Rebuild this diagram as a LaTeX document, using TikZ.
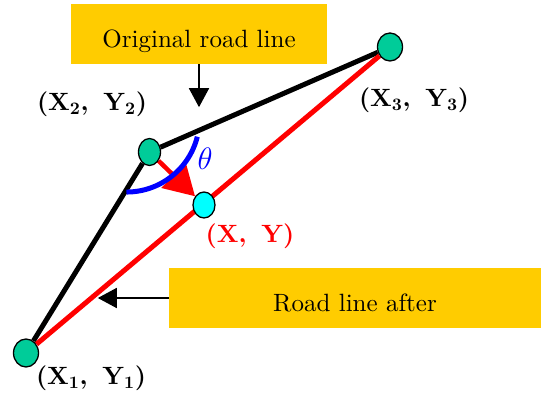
\documentclass[tikz,border=0pt]{standalone}
\usepackage{fix-cm}
\usepackage{fontspec}
\setmainfont{lmroman10-regular.otf}[BoldFont=lmroman10-bold.otf,ItalicFont=lmroman10-italic.otf]
\usepackage{tikz}
\usetikzlibrary{positioning,arrows.meta,shapes.geometric,backgrounds}
\definecolor{boxyellow}{RGB}{255,204,0}
\definecolor{ptgreen}{RGB}{0,204,153}
\definecolor{ptcyan}{RGB}{0,255,255}
\tikzset{
  callarr/.style={-{Triangle[length=19pt,width=20pt]},line width=1.6pt},
  movearr/.style={-{Triangle[length=30pt,width=34pt]},line width=4.5pt,draw=red},
  road/.style={line width=5pt},
  anglearc/.style={draw=blue,line width=5pt},
  notebox/.style={fill=boxyellow,inner sep=0pt,align=center,minimum height=60pt,
                  text height=28pt,text depth=0pt,font=\fontsize{25}{28}\selectfont},
  vertex/.style={ellipse,draw=black,line width=1.3pt,fill=ptgreen,inner sep=0pt,
                 minimum width=25pt,minimum height=28pt},
  coordlbl/.style={font=\fontsize{25}{27}\selectfont\bfseries}
}
\begin{document}
\begin{tikzpicture}[x=1pt,y=1pt]
\useasboundingbox (0,0) rectangle (541,396);
\node[notebox, minimum width=256pt] (orig) at (199,362) {Original road line};
\node[notebox, minimum width=372pt] (after) at (355,98) {Road line after};
\coordinate[below=43pt of orig.south] (origtip);
\coordinate[left=71pt of after.west] (aftertip);

\node[vertex] (p1) at (26,43) {};
\node[vertex, minimum width=22pt, minimum height=27pt] (p2) at (149.5,244) {};
\node[vertex] (p3) at (390,349) {};
\node[vertex, fill=ptcyan, minimum width=22pt, minimum height=26pt] (pxy) at (204,191) {};

\node[coordlbl] (l1) at (91,18) {(X\textsubscript{1},\hspace{0.6em}Y\textsubscript{1})};
\node[coordlbl] (l2) at (92,292) {(X\textsubscript{2},\hspace{0.6em}Y\textsubscript{2})};
\node[coordlbl] (l3) at (414,296) {(X\textsubscript{3},\hspace{0.6em}Y\textsubscript{3})};
\node[coordlbl, text=red] (lxy) at (250,160) {(X,\hspace{0.6em}Y)};
\node[text=blue, font=\fontsize{31}{33}\selectfont] (th) at (205,237) {$\theta$};

\begin{scope}[on background layer]
\draw[road] (p1) -- (p2);
\draw[road] (p2) -- (p3);
\draw[road, red] (p1) -- (p3);
\draw[movearr] (p2) -- (pxy);
\draw[anglearc] (197.3,259.3) arc[start angle=-14, end angle=-90, radius=73];
\end{scope}
\draw[callarr] (orig.south) -- (origtip);
\draw[callarr] (after.west) -- (aftertip);
\end{tikzpicture}
\end{document}
